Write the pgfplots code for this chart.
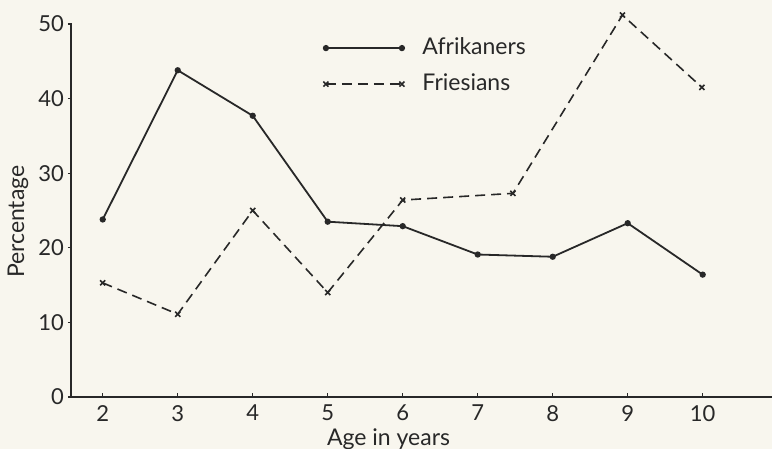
\documentclass[border=0pt]{standalone}
\usepackage{fontspec}
\setmainfont{Lato}
\usepackage{pgfplots}
\pgfplotsset{compat=1.18}
\definecolor{bg}{RGB}{248,246,238}
\definecolor{ink}{RGB}{40,40,40}
\begin{document}
\begin{tikzpicture}
\fill[bg] (-35.5pt,-26pt) rectangle (350.5pt,198.5pt);
\useasboundingbox (-35.5pt,-26pt) rectangle (350.5pt,198.5pt);
\begin{axis}[
  at={(0pt,0pt)}, anchor=south west,
  scale only axis, width=350.5pt, height=186.5pt,
  xmin=1.577, xmax=10.924, ymin=0, ymax=50,
  axis lines*=left,
  axis line style={ink, line width=0.7pt},
  clip=false,
  xtick={2,3,4,5,6,7,8,9,10},
  ytick={0,10,20,30,40,50},
  tick align=inside,
  major tick length=2pt,
  tick style={ink, line width=0.6pt},
  y tick style={xshift=-1.6pt},
  tick label style={font=\fontsize{11}{13}\selectfont, text=ink},
  /pgf/number format/assume math mode=true,
  xticklabel style={yshift=-0.5pt},
  xlabel={Age in years},
  ylabel={Percentage},
  label style={font=\fontsize{11.5}{13}\selectfont, text=ink},
  xlabel style={at={(axis description cs:0.453,-0.112)}, anchor=center},
  ylabel style={at={(axis description cs:-0.0756,0.47)}, anchor=center, rotate=0},
  legend style={at={(axis description cs:0.3595,0.966)}, anchor=north west,
    draw=none, fill=none, inner sep=0pt, row sep=7pt, column sep=9pt,
    font=\fontsize{11.5}{13}\selectfont, text=ink,
    nodes={inner sep=0pt, text height=8.5pt, text depth=2.5pt}},
  legend cell align=left,
  legend image code/.code={\draw[#1] plot coordinates {(0pt,0pt) (38pt,0pt)};},
]
\addplot[ink, line width=0.9pt, mark=*, mark size=1.1pt] coordinates {
 (2,23.8) (3,43.8) (4,37.7) (5,23.5) (6,22.9) (7,19.1) (8,18.8) (9,23.3) (10,16.4)};
\addlegendentry{Afrikaners}
\addplot[ink, line width=0.8pt, dash pattern=on 5pt off 3pt, mark=x, mark size=1.8pt, mark options={solid}] coordinates {
 (2,15.3) (3,11.1) (4,25.0) (5,14.0) (6,26.4) (7.47,27.3) (8.93,51.2) (9.99,41.5)};
\addlegendentry{Friesians}
\end{axis}
\end{tikzpicture}
\end{document}
